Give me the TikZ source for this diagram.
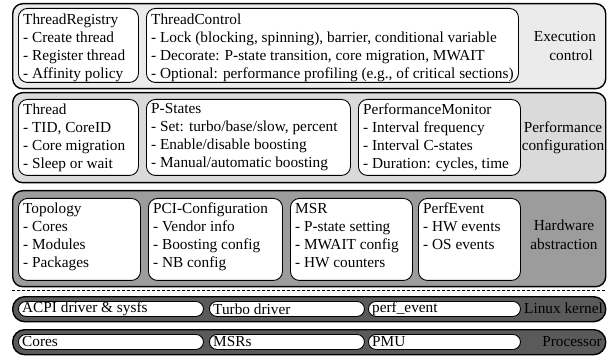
\documentclass[tikz,border=0pt]{standalone}
\usepackage{fontspec}
\setmainfont{Liberation Serif}
\usetikzlibrary{calc}
\definecolor{lay1}{HTML}{EBEBEB}
\definecolor{lay2}{HTML}{DADADA}
\definecolor{lay3}{HTML}{9C9C9C}
\definecolor{lay4}{HTML}{5A5A5A}
\tikzset{
  layerbox/.style={draw=black, line width=1.4pt, rounded corners=10pt, anchor=north west, inner sep=0pt},
  ibox/.style={draw=black, line width=0.9pt, fill=white, rounded corners=9pt, anchor=north west, inner sep=0pt},
  pill/.style={draw=black, line width=0.9pt, fill=white, rounded corners=7.5pt, anchor=north west, inner sep=0pt, minimum height=15pt},
  itext/.style={anchor=north west, align=left, inner sep=0pt, font=\fontsize{15.3}{18}\selectfont},
  ptext/.style={anchor=west, inner sep=0pt, font=\fontsize{15.3}{18}\selectfont},
  ltext/.style={align=center, inner sep=0pt, font=\fontsize{15.3}{18.5}\selectfont},
}
\begin{document}
\begin{tikzpicture}[x=1pt,y=-1pt]
\useasboundingbox (0,0) rectangle (608,358);
% layer 1
\node[layerbox, fill=lay1, minimum width=593pt, minimum height=85pt] (L1) at (12,3) {};
\node[ibox, minimum width=120pt, minimum height=74pt] (tr) at (18,8) {};
\node[itext] (trt) at ($(tr.north west)+(5,5.5)$) {ThreadRegistry\\- Create thread\\- Register thread\\- Affinity policy};
\node[ibox, minimum width=372pt, minimum height=74pt] (tc) at (146,8) {};
\node[itext] (tct) at ($(tc.north west)+(5,5.5)$) {ThreadControl\\- Lock (blocking, spinning), barrier, conditional variable\\- Decorate: P-state transition, core migration, MWAIT\\- Optional: performance profiling (e.g., of critical sections)};
\node[ltext] (l1t) at (565,46) {Execution\\\hspace*{0.8em}control};
% layer 2
\node[layerbox, fill=lay2, minimum width=593pt, minimum height=90pt] (L2) at (12,92) {};
\node[ibox, minimum width=120pt, minimum height=76pt] (th) at (18,99) {};
\node[itext] (tht) at ($(th.north west)+(5,4.5)$) {Thread\\- TID, CoreID\\- Core migration\\- Sleep or wait};
\node[ibox, minimum width=204pt, minimum height=76pt] (ps) at (146,99) {};
\node[itext] (pst) at ($(ps.north west)+(5,4.5)$) {P-States\\- Set: turbo/base/slow, percent\\- Enable/disable boosting\\- Manual/automatic boosting};
\node[ibox, minimum width=162pt, minimum height=76pt] (pm) at (358,99) {};
\node[itext] (pmt) at ($(pm.north west)+(5,4.5)$) {PerformanceMonitor\\- Interval frequency\\- Interval C-states\\- Duration: cycles, time};
\node[ltext] (l2t) at (563,138) {Performance\\configuration};
% layer 3
\node[layerbox, fill=lay3, minimum width=593pt, minimum height=96pt] (L3) at (12,190) {};
\node[ibox, minimum width=122pt, minimum height=82pt] (tp) at (18,198) {};
\node[itext] (tpt) at ($(tp.north west)+(5,5)$) {Topology\\- Cores\\- Modules\\- Packages};
\node[ibox, minimum width=134pt, minimum height=82pt] (pci) at (148,198) {};
\node[itext] (pcit) at ($(pci.north west)+(5,5)$) {PCI-Configuration\\- Vendor info\\- Boosting config\\- NB config};
\node[ibox, minimum width=122pt, minimum height=82pt] (msr) at (290,198) {};
\node[itext] (msrt) at ($(msr.north west)+(5,5)$) {MSR\\- P-state setting\\- MWAIT config\\- HW counters};
\node[ibox, minimum width=102pt, minimum height=82pt] (pe) at (418,198) {};
\node[itext] (pet) at ($(pe.north west)+(5,5)$) {PerfEvent\\- HW events\\- OS events};
\node[ltext] (l3t) at (564,235) {Hardware\\abstraction};
% dashed separator
\coordinate (dL) at (12,290);
\coordinate (dR) at (605,290);
\draw[line width=0.6pt, dash pattern=on 3pt off 2pt] (dL) -- (dR);
% layer 4
\node[layerbox, fill=lay4, rounded corners=12pt, minimum width=593pt, minimum height=25pt] (L4) at (12,296) {};
\node[pill, minimum width=185pt] (acpi) at (18,301) {};
\node[ptext] (acpit) at ($(acpi.west)+(4,0)$) {ACPI driver \& sysfs};
\node[pill, minimum width=155pt] (turbo) at (209,301) {};
\node[ptext] (turbot) at ($(turbo.west)+(4,0)$) {Turbo driver};
\node[pill, minimum width=152pt] (perf) at (368,301) {};
\node[ptext] (perft) at ($(perf.west)+(4,0)$) {perf\_event};
\node[anchor=east, inner sep=0pt, font=\fontsize{15.3}{18}\selectfont] (l4t) at (603,308.5) {Linux kernel};
% layer 5
\node[layerbox, fill=lay4, rounded corners=12pt, minimum width=593pt, minimum height=25pt] (L5) at (12,329) {};
\node[pill, minimum width=185pt] (cores) at (18,334) {};
\node[ptext] (corest) at ($(cores.west)+(4,0)$) {Cores};
\node[pill, minimum width=155pt] (msrs) at (209,334) {};
\node[ptext] (msrst) at ($(msrs.west)+(4,0)$) {MSRs};
\node[pill, minimum width=152pt] (pmu) at (368,334) {};
\node[ptext] (pmut) at ($(pmu.west)+(4,0)$) {PMU};
\node[anchor=east, inner sep=0pt, font=\fontsize{15.3}{18}\selectfont] (l5t) at (602,341.5) {Processor};
\end{tikzpicture}
\end{document}
